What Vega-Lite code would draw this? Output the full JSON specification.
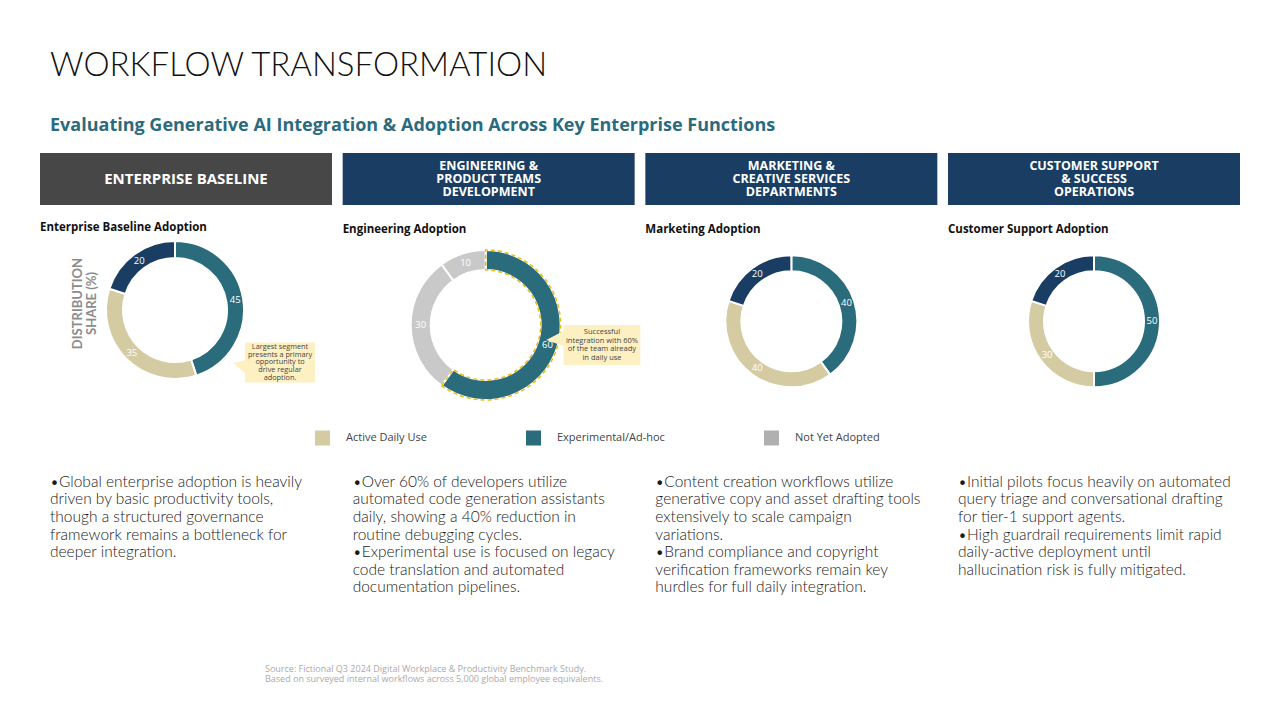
{
  "$schema": "https://vega.github.io/schema/vega-lite/v6.json",
  "background": "white",
  "padding": {"left": 40, "right": 40, "top": 50, "bottom": 0},
  "config": {
    "font": "Lato",
    "view": {"stroke": null},
    "title": {"anchor": "start", "fontSize": 11.5, "fontWeight": "bold", "color": "#111111", "offset": 4, "font": "Open Sans"}
  },
  "title": {
    "text": "WORKFLOW TRANSFORMATION",
    "subtitle": "Evaluating Generative AI Integration & Adoption Across Key Enterprise Functions",
    "anchor": "start",
    "dx": 10,
    "font": "Lato",
    "fontSize": 33,
    "fontWeight": 300,
    "color": "#111111",
    "subtitleFont": "Open Sans",
    "subtitleFontSize": 18,
    "subtitleFontWeight": "bold",
    "subtitleColor": "#2b6b7d",
    "subtitlePadding": 34,
    "offset": 18
  },
  "datasets": {
    "panels": [
      {"panel": "Enterprise", "header": "ENTERPRISE BASELINE"},
      {"panel": "Engineering", "header": "ENGINEERING &\nPRODUCT TEAMS\nDEVELOPMENT"},
      {"panel": "Marketing", "header": "MARKETING &\nCREATIVE SERVICES\nDEPARTMENTS"},
      {"panel": "Customer Support", "header": "CUSTOMER SUPPORT\n& SUCCESS\nOPERATIONS"}
    ],
    "shares": [
      {"panel": "Enterprise", "status": "Active Daily Use", "seq": 1, "share": 45},
      {"panel": "Enterprise", "status": "Experimental/Ad-hoc", "seq": 2, "share": 35},
      {"panel": "Enterprise", "status": "Not Yet Adopted", "seq": 3, "share": 20},
      {"panel": "Engineering", "status": "Active Daily Use", "seq": 1, "share": 60},
      {"panel": "Engineering", "status": "Experimental/Ad-hoc", "seq": 2, "share": 30},
      {"panel": "Engineering", "status": "Not Yet Adopted", "seq": 3, "share": 10},
      {"panel": "Marketing", "status": "Active Daily Use", "seq": 1, "share": 40},
      {"panel": "Marketing", "status": "Experimental/Ad-hoc", "seq": 2, "share": 40},
      {"panel": "Marketing", "status": "Not Yet Adopted", "seq": 3, "share": 20},
      {"panel": "Customer Support", "status": "Active Daily Use", "seq": 1, "share": 50},
      {"panel": "Customer Support", "status": "Experimental/Ad-hoc", "seq": 2, "share": 30},
      {"panel": "Customer Support", "status": "Not Yet Adopted", "seq": 3, "share": 20}
    ],
    "statuses": [
      {"status": "Active Daily Use"},
      {"status": "Experimental/Ad-hoc"},
      {"status": "Not Yet Adopted"}
    ],
    "notes": [
      {"panel": "Enterprise", "line": 1, "text": "•Global enterprise adoption is heavily"},
      {"panel": "Enterprise", "line": 2, "text": "driven by basic productivity tools,"},
      {"panel": "Enterprise", "line": 3, "text": "though a structured governance"},
      {"panel": "Enterprise", "line": 4, "text": "framework remains a bottleneck for"},
      {"panel": "Enterprise", "line": 5, "text": "deeper integration."},
      {"panel": "Engineering", "line": 1, "text": "•Over 60% of developers utilize"},
      {"panel": "Engineering", "line": 2, "text": "automated code generation assistants"},
      {"panel": "Engineering", "line": 3, "text": "daily, showing a 40% reduction in"},
      {"panel": "Engineering", "line": 4, "text": "routine debugging cycles."},
      {"panel": "Engineering", "line": 5, "text": "•Experimental use is focused on legacy"},
      {"panel": "Engineering", "line": 6, "text": "code translation and automated"},
      {"panel": "Engineering", "line": 7, "text": "documentation pipelines."},
      {"panel": "Marketing", "line": 1, "text": "•Content creation workflows utilize"},
      {"panel": "Marketing", "line": 2, "text": "generative copy and asset drafting tools"},
      {"panel": "Marketing", "line": 3, "text": "extensively to scale campaign"},
      {"panel": "Marketing", "line": 4, "text": "variations."},
      {"panel": "Marketing", "line": 5, "text": "•Brand compliance and copyright"},
      {"panel": "Marketing", "line": 6, "text": "verification frameworks remain key"},
      {"panel": "Marketing", "line": 7, "text": "hurdles for full daily integration."},
      {"panel": "Customer Support", "line": 1, "text": "•Initial pilots focus heavily on automated"},
      {"panel": "Customer Support", "line": 2, "text": "query triage and conversational drafting"},
      {"panel": "Customer Support", "line": 3, "text": "for tier-1 support agents."},
      {"panel": "Customer Support", "line": 4, "text": "•High guardrail requirements limit rapid"},
      {"panel": "Customer Support", "line": 5, "text": "daily-active deployment until"},
      {"panel": "Customer Support", "line": 6, "text": "hallucination risk is fully mitigated."}
    ]
  },
  "spacing": 16,
  "resolve": {
    "scale": {"fill": "independent", "color": "independent", "x": "independent", "y": "independent", "theta": "independent"},
    "legend": {"color": "independent", "fill": "independent"}
  },
  "vconcat": [
    {
      "width": 1200,
      "height": 52,
      "data": {"name": "panels"},
      "encoding": {
        "x": {"field": "panel", "type": "nominal", "scale": {"type": "band", "domain": ["Enterprise", "Engineering", "Marketing", "Customer Support"], "paddingInner": 0.0353, "paddingOuter": 0}, "axis": null}
      },
      "layer": [
        {
          "mark": {"type": "rect"},
          "encoding": {
            "y": {"value": 0},
            "y2": {"value": "height"},
            "fill": {"field": "panel", "type": "nominal", "scale": {"domain": ["Enterprise", "Engineering", "Marketing", "Customer Support"], "range": ["#474747", "#1a3d63", "#1a3d63", "#1a3d63"]}, "legend": null}
          }
        },
        {
          "transform": [{"filter": "datum.panel === 'Enterprise'"}],
          "mark": {"type": "text", "font": "Open Sans", "color": "#ffffff", "fontSize": 15, "fontWeight": "bold", "align": "center", "baseline": "middle"},
          "encoding": {"text": {"field": "header", "type": "nominal"}}
        },
        {
          "transform": [{"filter": "datum.panel !== 'Enterprise'"}],
          "mark": {"type": "text", "font": "Open Sans", "color": "#ffffff", "fontSize": 12.5, "fontWeight": "bold", "lineBreak": "\n", "lineHeight": 12.8, "align": "center", "baseline": "middle", "dy": -12.8},
          "encoding": {"text": {"field": "header", "type": "nominal"}}
        }
      ]
    },
    {
      "spacing": 10.67,
      "bounds": "flush",
      "resolve": {"scale": {"fill": "independent", "theta": "independent"}, "legend": {"fill": "independent"}},
      "hconcat": [
        {
          "width": 292,
          "height": 142,
          "title": {"text": "Enterprise Baseline Adoption"},
          "data": {"name": "shares"},
          "layer": [
            {
              "transform": [{"filter": "datum.panel === 'Enterprise'"}],
              "mark": {"type": "arc", "innerRadius": 52, "outerRadius": 69, "stroke": "#ffffff", "strokeWidth": 2, "xOffset": -11},
              "encoding": {
                "theta": {"field": "share", "type": "quantitative", "stack": true},
                "order": {"field": "seq", "type": "quantitative"},
                "fill": {"field": "status", "type": "nominal", "scale": {"domain": ["Active Daily Use", "Experimental/Ad-hoc", "Not Yet Adopted"], "range": ["#2a6b7c", "#d5cba3", "#1a3e63"]}, "legend": null}
              }
            },
            {
              "transform": [{"filter": "datum.panel === 'Enterprise'"}],
              "mark": {"type": "text", "font": "Open Sans", "radius": 61, "xOffset": -11, "color": "#ffffff", "fontSize": 9.5},
              "encoding": {
                "theta": {"field": "share", "type": "quantitative", "stack": true},
                "order": {"field": "seq", "type": "quantitative"},
                "text": {"field": "share", "type": "quantitative"}
              }
            },
            {
              "data": {"values": [{"label": "DISTRIBUTION\nSHARE (%)"}]},
              "mark": {"type": "text", "x": 38, "y": 64.5, "angle": 270, "lineBreak": "\n", "lineHeight": 14, "fontSize": 13, "fontWeight": "bold", "color": "#8c8c8c", "align": "center", "baseline": "middle"},
              "encoding": {"text": {"field": "label", "type": "nominal"}}
            },
            {
              "data": {"values": [{"note": "Largest segment\npresents a primary\nopportunity to\ndrive regular\nadoption."}]},
              "mark": {"type": "point", "shape": "M-1,-0.571L1,-0.571L1,0.571L-1,0.571L-1,0.3L-1.334,0.023L-1,-0.07Z", "size": 4900, "filled": true, "fill": "#fdf0c2", "opacity": 1, "strokeWidth": 0, "x": 240, "y": 123.5}
            },
            {
              "data": {"values": [{"note": "Largest segment\npresents a primary\nopportunity to\ndrive regular\nadoption."}]},
              "mark": {"type": "text", "font": "Open Sans", "x": 240, "y": 107.7, "fontSize": 7.3, "lineHeight": 7.9, "color": "#444444", "lineBreak": "\n", "align": "center", "baseline": "middle"},
              "encoding": {"text": {"field": "note", "type": "nominal"}}
            }
          ]
        },
        {
          "width": 292,
          "height": 172,
          "title": {"text": "Engineering Adoption"},
          "data": {"name": "shares"},
          "layer": [
            {
              "transform": [{"filter": "datum.panel === 'Engineering'"}],
              "mark": {"type": "arc", "innerRadius": 55, "outerRadius": 75, "stroke": "#ffffff", "strokeWidth": 2, "xOffset": -3},
              "encoding": {
                "theta": {"field": "share", "type": "quantitative", "stack": true},
                "order": {"field": "seq", "type": "quantitative"},
                "fill": {"field": "status", "type": "nominal", "scale": {"domain": ["Active Daily Use", "Experimental/Ad-hoc", "Not Yet Adopted"], "range": ["#2a6b7c", "#c9c9c9", "#c9c9c9"]}, "legend": null}
              }
            },
            {
              "transform": [{"filter": "datum.panel === 'Engineering'"}, {"filter": "datum.status === 'Active Daily Use'"}],
              "mark": {"type": "arc", "innerRadius": 55, "outerRadius": 75, "fill": "transparent", "stroke": "#e8bd10", "strokeWidth": 1.5, "strokeDash": [4, 3], "xOffset": -3},
              "encoding": {
                "theta": {"field": "share", "type": "quantitative", "stack": true},
                "order": {"field": "seq", "type": "quantitative"}
              }
            },
            {
              "transform": [{"filter": "datum.panel === 'Engineering'"}],
              "mark": {"type": "text", "font": "Open Sans", "radius": 65, "xOffset": -3, "color": "#ffffff", "fontSize": 9.5},
              "encoding": {
                "theta": {"field": "share", "type": "quantitative", "stack": true},
                "order": {"field": "seq", "type": "quantitative"},
                "text": {"field": "share", "type": "quantitative"}
              }
            },
            {
              "data": {"values": [{"note": "Successful\nintegration with 60%\nof the team already\nin daily use"}]},
              "mark": {"type": "point", "shape": "M-1,-0.5215L1,-0.5215L1,0.5215L-1,0.5215L-1,0.026L-1.454,-0.13L-1,-0.365Z", "size": 5883, "filled": true, "fill": "#fdf0c2", "opacity": 1, "strokeWidth": 0, "x": 259.3, "y": 106}
            },
            {
              "data": {"values": [{"note": "Successful\nintegration with 60%\nof the team already\nin daily use"}]},
              "mark": {"type": "text", "font": "Open Sans", "x": 259.3, "y": 93, "fontSize": 7.5, "lineHeight": 8.7, "color": "#444444", "lineBreak": "\n", "align": "center", "baseline": "middle"},
              "encoding": {"text": {"field": "note", "type": "nominal"}}
            }
          ]
        },
        {
          "width": 292,
          "height": 164.6,
          "title": {"text": "Marketing Adoption"},
          "data": {"name": "shares"},
          "transform": [{"filter": "datum.panel === 'Marketing'"}],
          "encoding": {
            "theta": {"field": "share", "type": "quantitative", "stack": true},
            "order": {"field": "seq", "type": "quantitative"}
          },
          "layer": [
            {
              "mark": {"type": "arc", "innerRadius": 50, "outerRadius": 66, "stroke": "#ffffff", "strokeWidth": 2},
              "encoding": {
                "fill": {"field": "status", "type": "nominal", "scale": {"domain": ["Active Daily Use", "Experimental/Ad-hoc", "Not Yet Adopted"], "range": ["#2a6b7c", "#d5cba3", "#1a3e63"]}, "legend": null}
              }
            },
            {
              "mark": {"type": "text", "font": "Open Sans", "radius": 58, "color": "#ffffff", "fontSize": 9.5},
              "encoding": {"text": {"field": "share", "type": "quantitative"}}
            }
          ]
        },
        {
          "width": 292,
          "height": 164.6,
          "title": {"text": "Customer Support Adoption"},
          "data": {"name": "shares"},
          "transform": [{"filter": "datum.panel === 'Customer Support'"}],
          "encoding": {
            "theta": {"field": "share", "type": "quantitative", "stack": true},
            "order": {"field": "seq", "type": "quantitative"}
          },
          "layer": [
            {
              "mark": {"type": "arc", "innerRadius": 50, "outerRadius": 66, "stroke": "#ffffff", "strokeWidth": 2},
              "encoding": {
                "fill": {"field": "status", "type": "nominal", "scale": {"domain": ["Active Daily Use", "Experimental/Ad-hoc", "Not Yet Adopted"], "range": ["#2a6b7c", "#d5cba3", "#1a3e63"]}, "legend": null}
              }
            },
            {
              "mark": {"type": "text", "font": "Open Sans", "radius": 58, "color": "#ffffff", "fontSize": 9.5},
              "encoding": {"text": {"field": "share", "type": "quantitative"}}
            }
          ]
        }
      ]
    },
    {
      "width": 1200,
      "height": 29.2,
      "data": {"name": "statuses"},
      "mark": {"type": "point", "filled": true, "size": 0, "opacity": 1, "strokeWidth": 0},
      "encoding": {
        "color": {
          "field": "status",
          "type": "nominal",
          "scale": {"domain": ["Active Daily Use", "Experimental/Ad-hoc", "Not Yet Adopted"], "range": ["#d5cba3", "#2a6b7c", "#b0b0b0"]},
          "legend": {
            "orient": "none",
            "legendX": 275,
            "legendY": 3.5,
            "direction": "horizontal",
            "title": null,
            "symbolType": "square",
            "symbolSize": 225,
            "symbolStrokeWidth": 0,
            "symbolOpacity": 1,
            "labelFontSize": 11,
            "labelColor": "#444444",
            "labelFont": "Open Sans",
            "columnPadding": 99,
            "labelOffset": 16,
            "padding": 0
          }
        }
      }
    },
    {
      "width": 1200,
      "height": {"step": 17.6},
      "data": {"name": "notes"},
      "title": {
        "text": ["Source: Fictional Q3 2024 Digital Workplace & Productivity Benchmark Study.", "Based on surveyed internal workflows across 5,000 global employee equivalents."],
        "orient": "bottom",
        "anchor": "start",
        "frame": "group",
        "dx": 225,
        "offset": 68.5,
        "font": "Open Sans",
        "fontSize": 9,
        "fontWeight": "normal",
        "color": "#aaaaaa",
        "lineHeight": 10
      },
      "mark": {"type": "text", "align": "left", "baseline": "middle", "dx": 10, "fontSize": 15.5, "fontWeight": 300, "color": "#1a1a1a"},
      "encoding": {
        "x": {"field": "panel", "type": "nominal", "bandPosition": 0, "scale": {"type": "band", "domain": ["Enterprise", "Engineering", "Marketing", "Customer Support"], "paddingInner": 0.0353, "paddingOuter": 0}, "axis": null},
        "y": {"field": "line", "type": "ordinal", "scale": {"type": "point", "padding": 0.5}, "axis": null},
        "text": {"field": "text", "type": "nominal"}
      }
    }
  ]
}
